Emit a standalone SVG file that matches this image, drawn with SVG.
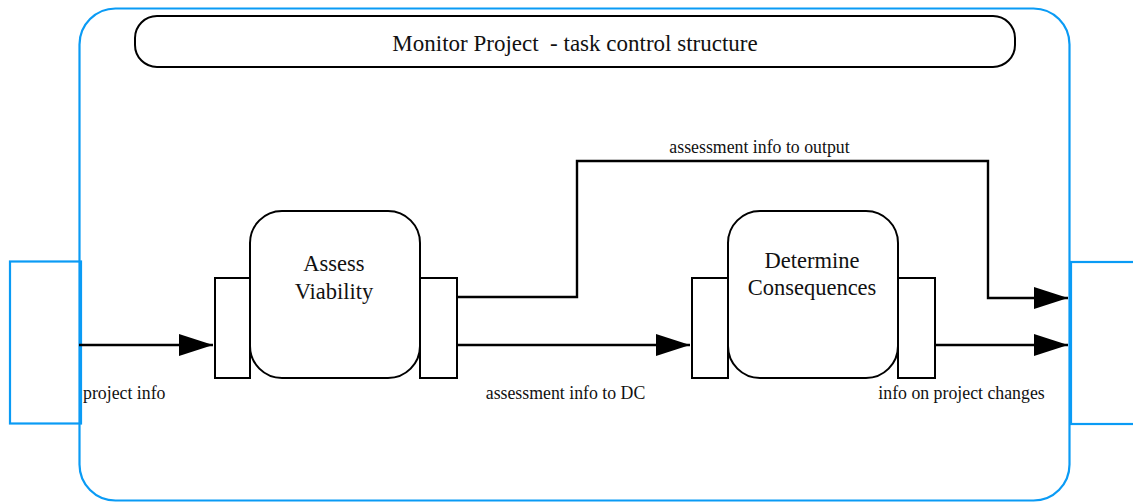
<svg xmlns="http://www.w3.org/2000/svg" width="1133" height="502" viewBox="0 0 1133 502">
<defs>
<style>
.blue{fill:none;stroke:#0a9bf5;stroke-width:2.2}
.box{fill:#fff;stroke:#000;stroke-width:2}
.ln{fill:none;stroke:#000;stroke-width:2.4}
.t{font-family:"Liberation Serif","Times New Roman",serif;fill:#111}
.lbl{font-size:17.8px}
.node{font-size:22.5px;text-anchor:middle}
</style>
<marker id="ah" markerUnits="userSpaceOnUse" markerWidth="36" markerHeight="22" refX="34" refY="11" orient="auto">
<path d="M0,0 L34,11 L0,22 Z" fill="#000"/>
</marker>
</defs>
<g id="frame">
<rect class="blue" x="79.5" y="8.5" width="990" height="492" rx="36"/>
</g>
<g id="title">
<rect class="box" x="135" y="16" width="880" height="51" rx="22"/>
<text class="t" x="575" y="51" font-size="23" text-anchor="middle" style="white-space:pre">Monitor Project  - task control structure</text>
</g>
<g id="port-in">
<rect class="blue" x="10" y="261.5" width="71" height="162"/>
</g>
<g id="port-out">
<rect class="blue" x="1071" y="262" width="70" height="162"/>
</g>
<g id="assess-viability">
<rect class="box" x="215" y="278" width="35" height="100"/>
<rect class="box" x="420" y="278" width="37" height="100"/>
<rect class="box" x="250" y="211" width="170" height="167" rx="32"/>
<text class="t node" x="334" y="271">Assess</text>
<text class="t node" x="334" y="299">Viability</text>
</g>
<g id="determine-consequences">
<rect class="box" x="692" y="278" width="36" height="100"/>
<rect class="box" x="898" y="278" width="37" height="100"/>
<rect class="box" x="728" y="211" width="170" height="167" rx="32"/>
<text class="t node" x="812" y="268">Determine</text>
<text class="t node" x="812" y="295">Consequences</text>
</g>
<g id="connectors">
<path class="ln" d="M79,345 H213" marker-end="url(#ah)"/>
<path class="ln" d="M457,345 H690" marker-end="url(#ah)"/>
<path class="ln" d="M935,345 H1068" marker-end="url(#ah)"/>
<path class="ln" d="M457,297 H577 V161 H988 V298 H1068" marker-end="url(#ah)"/>
</g>
<g id="labels">
<text class="t lbl" x="83" y="399">project info</text>
<text class="t lbl" x="565.5" y="399" text-anchor="middle">assessment info to DC</text>
<text class="t lbl" x="961.5" y="399" text-anchor="middle">info on project changes</text>
<text class="t lbl" x="759.5" y="153" text-anchor="middle">assessment info to output</text>
</g>
</svg>
